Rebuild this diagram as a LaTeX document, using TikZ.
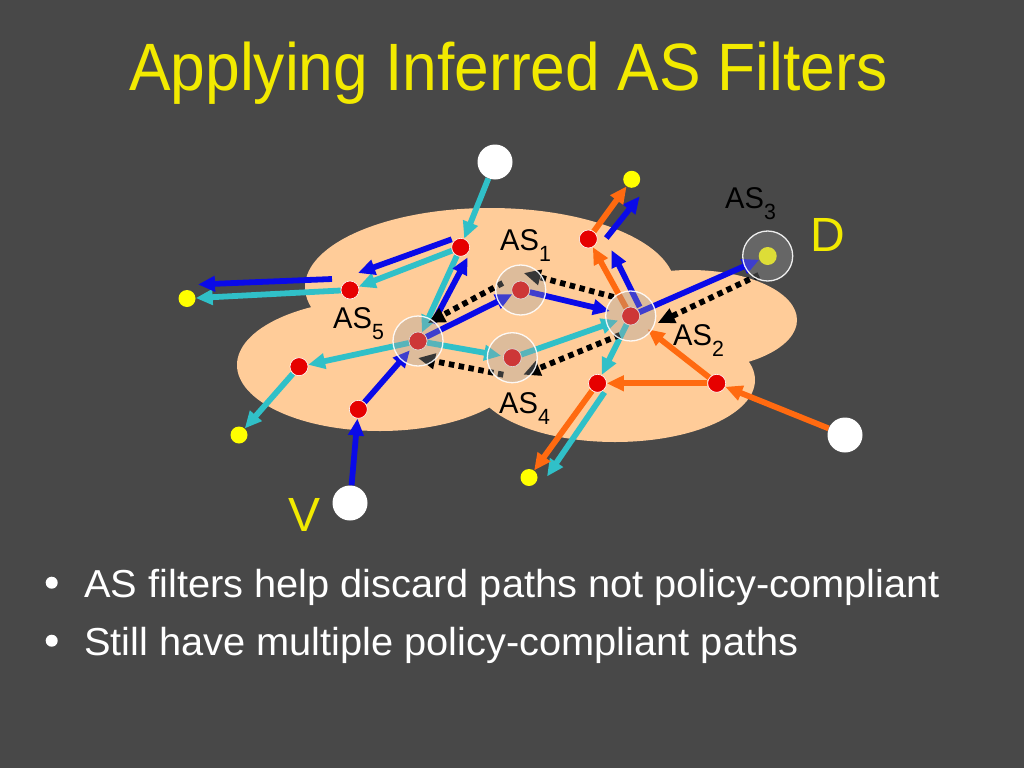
\documentclass[tikz,border=0pt]{standalone}
\usepackage{fontspec}
\setmainfont{Liberation Sans}
\usetikzlibrary{arrows.meta,calc}
\pgfdeclarelayer{back}
\pgfdeclarelayer{lines}
\pgfdeclarelayer{front}
\pgfsetlayers{back,lines,main,front}
\definecolor{bgc}{RGB}{72,72,72}
\definecolor{cloudc}{RGB}{255,204,153}
\definecolor{cyc}{RGB}{48,192,200}
\definecolor{blc}{RGB}{10,10,232}
\definecolor{orc}{RGB}{255,106,16}
\definecolor{rdc}{RGB}{230,0,0}
\definecolor{ylc}{RGB}{255,255,0}
\definecolor{titc}{RGB}{242,234,0}
\definecolor{hubc}{RGB}{160,160,160}
\newcommand\aslab[1]{AS\raisebox{-11pt}{\fontsize{22}{24}\selectfont #1}}
\begin{document}
\begin{tikzpicture}[x=1pt,y=-1pt,
  tipa/.style={-{Triangle[length=17pt,width=15pt]}},
  edge/.style={line width=5.8pt, tipa},
  cyl/.style={edge, draw=cyc},
  bll/.style={edge, draw=blc},
  orl/.style={edge, draw=orc},
  dotl/.style={edge, draw=black, dash pattern=on 5.5pt off 4.5pt},
  reddot/.style={circle, fill=rdc, draw=white, line width=0.6pt, minimum size=18pt, inner sep=0pt},
  ydot/.style={circle, fill=ylc, minimum size=17pt, inner sep=0pt},
  wdot/.style={circle, fill=white, minimum size=35pt, inner sep=0pt},
  hubfill/.style={fill=hubc, fill opacity=0.35},
  hubring/.style={draw=white, line width=1.3pt, draw opacity=0.9},
  aslabel/.style={anchor=base west, inner sep=0pt, text=black, font=\fontsize{30}{32}\selectfont, xscale=0.97},
  bigletter/.style={anchor=base west, inner sep=0pt, text=titc, font=\fontsize{48}{50}\selectfont},
  bullettext/.style={anchor=base west, inner sep=0pt, text=white, font=\fontsize{39}{44}\selectfont, xscale=1.02},
  bulletdot/.style={circle, fill=white, minimum size=12pt, inner sep=0pt}
]
\useasboundingbox (0,0) rectangle (1024,768);
\begin{pgfonlayer}{back}
\fill[bgc] (0,0) rectangle (1024,768);
\fill[cloudc] (490,287) ellipse [x radius=185pt, y radius=79pt];
\fill[cloudc] (380,365) ellipse [x radius=143pt, y radius=66pt];
\fill[cloudc] (690,320) ellipse [x radius=107pt, y radius=50pt];
\fill[cloudc] (615,380) ellipse [x radius=140pt, y radius=62pt];
\fill[cloudc] (560,335) ellipse [x radius=90pt, y radius=50pt];
\end{pgfonlayer}

% title
\node[anchor=base west, inner sep=0pt, text=titc, font=\fontsize{67}{75}\selectfont, xscale=0.93] (title) at (129,90) {Applying Inferred AS Filters};

% end points
\node[wdot] (W1) at (495,162) {};
\node[wdot] (W2) at (845,435) {};
\node[wdot] (W3) at (350,503) {};
\node[ydot] (Y1) at (187,298.5) {};
\node[ydot] (Y2) at (631.7,179.3) {};
\node[ydot] (Y3) at (239,435) {};
\node[ydot] (Y4) at (529,477.5) {};
\node[ydot, minimum size=18pt] (Dy) at (767.7,256) {};
% routers
\node[reddot] (Ra) at (460.7,247.3) {};
\node[reddot] (Rb) at (350,290) {};
\node[reddot] (Rc) at (299,366.7) {};
\node[reddot] (Rd) at (358.3,409.3) {};
\node[reddot] (Re) at (588.3,239) {};
\node[reddot] (Rf) at (597.5,383.3) {};
\node[reddot] (Rg) at (716.7,383.3) {};
\node[reddot] (H1) at (520.7,290) {};
\node[reddot] (H2) at (630.7,316) {};
\node[reddot] (H4) at (512.3,357.7) {};
\node[reddot] (H5) at (418,341) {};

\begin{pgfonlayer}{lines}
% cyan
\draw[cyl] (W1) -- (Ra);
\draw[cyl] (Ra) -- (Rb);
\draw[cyl] (Rb) -- (Y1);
\draw[cyl] (Ra) -- (H5);
\draw[cyl, shorten >=2pt] (H5) -- (H4);
\draw[cyl, shorten >=4pt] (H4) -- (H2);
\draw[cyl] (H5) -- (Rc);
\draw[cyl] (Rc) -- (Y3);
\draw[cyl] (H2) -- (Rf);
\draw[cyl] ([shift={(7,9)}]Rf.center) -- ([shift={(18,-1)}]Y4.center);
% blue
\draw[bll] ([shift={(-9,-8)}]Ra.center) -- ([shift={(8,-17)}]Rb.center);
\draw[bll] ([shift={(-18,-11)}]Rb.center) -- ([shift={(11,-14)}]Y1.center);
\draw[bll] ([shift={(15,-18)}]H5.center) -- ([shift={(7,10)}]Ra.center);
\draw[bll] (H5) -- (H1);
\draw[bll, shorten >=12pt] (H1) -- (H2);
\draw[bll] (W3) -- (Rd);
\draw[bll, shorten >=3pt] (Rd) -- (H5);
\draw[bll] (H2) -- (Dy);
\draw[bll] ([shift={(9,-9)}]H2.center) -- ([shift={(23,11)}]Re.center);
\draw[bll] ([shift={(18,-1)}]Re.center) -- ([shift={(8,17)}]Y2.center);
% orange
\draw[orl] (H2) -- (Re);
\draw[orl] (Re) -- (Y2);
\draw[orl] (W2) -- (Rg);
\draw[orl] (Rg) -- (Rf);
\draw[orl, shorten >=12pt] (Rg) -- (H2);
\draw[orl] (Rf) -- (Y4);
% dotted
\draw[dotl] ([shift={(-18,-7)}]H1.center) -- ([shift={(10,-18)}]H5.center);
\draw[dotl] ([shift={(-17,-19)}]H2.center) -- ([shift={(3,-17)}]H1.center);
\draw[dotl] ([shift={(-11,19)}]H2.center) -- ([shift={(11,17)}]H4.center);
\draw[dotl] ([shift={(-9,17)}]H4.center) -- ([shift={(0,17)}]H5.center);
\draw[dotl] ([shift={(-9,19)}]Dy.center) -- ([shift={(27,7)}]H2.center);
\end{pgfonlayer}

\begin{pgfonlayer}{front}
\foreach \n in {H1,H2,H4,H5,Dy}{
  \fill[hubfill] (\n.center) circle[radius=25pt];
  \draw[hubring] (\n.center) circle[radius=25pt];
}
\end{pgfonlayer}

% labels
\node[aslabel] (L1) at (500,250) {\aslab{1}};
\node[aslabel] (L2) at (673,345) {\aslab{2}};
\node[aslabel] (L3) at (725,208) {\aslab{3}};
\node[aslabel] (L4) at (499,413) {\aslab{4}};
\node[aslabel] (L5) at (333,328) {\aslab{5}};
\node[bigletter] (Dl) at (810,251) {D};
\node[bigletter] (Vl) at (288,531) {V};

% bullets
\node[bulletdot] (b1) at (51.7,582.7) {};
\node[bulletdot] (b2) at (51.7,640.7) {};
\node[bullettext] (t1) at (84,597) {AS filters help discard paths not policy-compliant};
\node[bullettext] (t2) at (84,655) {Still have multiple policy-compliant paths};
\end{tikzpicture}
\end{document}
